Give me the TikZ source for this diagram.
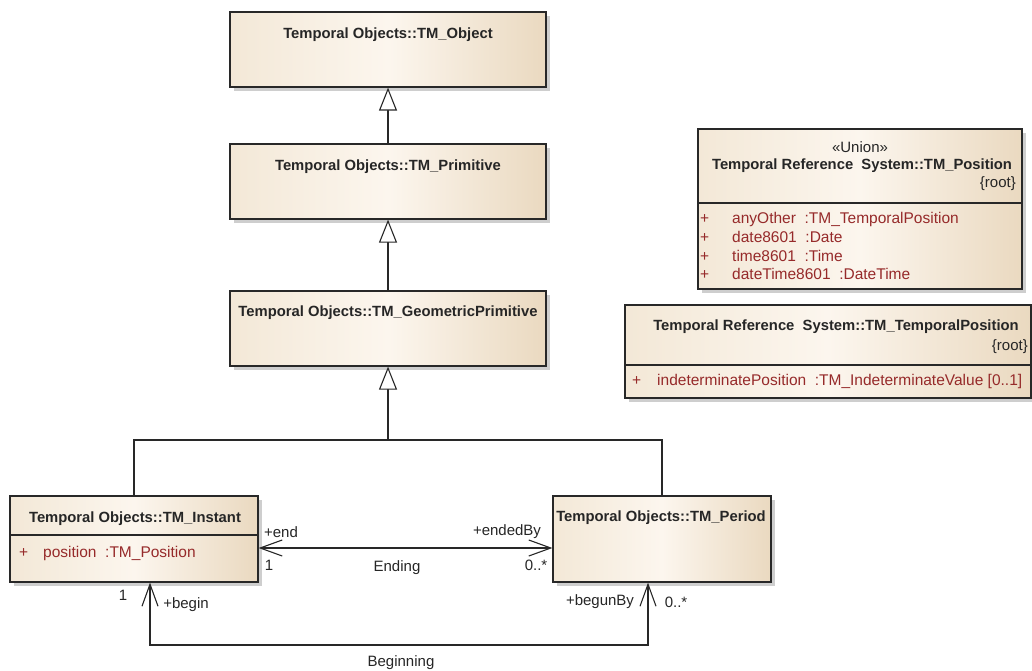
\documentclass[tikz,border=0pt]{standalone}
\usepackage{fontspec}
\setmainfont{Liberation Sans}
\usetikzlibrary{arrows.meta,shadows}
\definecolor{boxleft}{RGB}{243,232,215}
\definecolor{boxmid}{RGB}{252,246,238}
\definecolor{boxright}{RGB}{234,217,192}
\definecolor{attrred}{RGB}{150,42,42}
\definecolor{edge}{RGB}{40,40,40}
\tikzset{
    umlclass/.style={draw=edge, line width=1.2pt, left color=boxleft, right color=boxright, middle color=boxmid,
        drop shadow={shadow xshift=4pt, shadow yshift=-4pt, opacity=0.35, fill=black!55}, inner sep=0pt},
    title/.style={font=\bfseries\fontsize{14.8}{17}\selectfont, text=black!85, inner sep=0pt},
    txt/.style={font=\fontsize{15}{17}\selectfont, text=black!85, inner sep=0pt},
    attr/.style={font=\fontsize{15.5}{17}\selectfont, inner sep=0pt, text=attrred, anchor=base west},
    genline/.style={draw=edge, line width=1.1pt, -{Triangle[length=23pt, width=18pt, fill=white, line width=1.1pt]}},
    assoc/.style={draw=edge, line width=1.1pt,
        {Straight Barb[length=22pt, width=16pt]}-{Straight Barb[length=22pt, width=16pt]}},
}
\begin{document}
\begin{tikzpicture}[x=1pt, y=-1pt]
    \fill[white] (0,0) rectangle (1032,671);
    \useasboundingbox (0,0) rectangle (1032,671);

    % classes of Temporal Objects
    \node[umlclass, minimum width=316pt, minimum height=75pt] (obj) at (388,49.5) {};
    \node[title] (objT) at (388,35) {Temporal Objects::TM\_Object};
    \node[umlclass, minimum width=316pt, minimum height=75pt] (prim) at (388,181.5) {};
    \node[title] (primT) at (388,167) {Temporal Objects::TM\_Primitive};
    \node[umlclass, minimum width=316pt, minimum height=75pt] (geo) at (388,328.5) {};
    \node[title] (geoT) at (388,313) {Temporal Objects::TM\_GeometricPrimitive};

    \node[umlclass, minimum width=248pt, minimum height=86pt] (inst) at (134,539) {};
    \node[title] (instT) at (135,519) {Temporal Objects::TM\_Instant};
    \draw[draw=edge, line width=1.2pt] (10,535) -- (258,535);
    \node[attr] (instP) at (19,557) {+};
    \node[attr] (instA) at (43,557) {position~ :TM\_Position};

    \node[umlclass, minimum width=218pt, minimum height=86pt] (per) at (662,539) {};
    \node[title] (perT) at (661,518) {Temporal Objects::TM\_Period};

    % Temporal Reference System
    \node[umlclass, minimum width=324pt, minimum height=160pt] (pos) at (860,209) {};
    \node[txt] (posS) at (860,147) {«Union»};
    \node[title] (posT) at (862,166) {Temporal Reference~ System::TM\_Position};
    \node[txt, anchor=east] (posR) at (1016,184) {\{root\}};
    \draw[draw=edge, line width=1.2pt] (698,203) -- (1022,203);
    \foreach \y/\a in {223/{anyOther~ :TM\_TemporalPosition}, 242/{date8601~ :Date},
                       261/{time8601~ :Time}, 279/{dateTime8601~ :DateTime}} {
        \node[attr] at (700,\y) {+};
        \node[attr] at (732,\y) {\a};
    }

    \node[umlclass, minimum width=406pt, minimum height=93pt] (tpos) at (828,351.5) {};
    \node[title] (tposT) at (836,327) {Temporal Reference~ System::TM\_TemporalPosition};
    \node[txt, anchor=east] (tposR) at (1028,347) {\{root\}};
    \draw[draw=edge, line width=1.2pt] (625,365) -- (1031,365);
    \node[attr] (tposP) at (632,385) {+};
    \node[attr] (tposA) at (657,385) {indeterminatePosition~ :TM\_IndeterminateValue [0..1]};

    % generalisations
    \draw[genline] (prim.north) -- (obj.south);
    \draw[genline] (geo.north) -- (prim.south);
    \coordinate (fork) at (388,440);
    \draw[genline] (fork) -- (geo.south);
    \draw[draw=edge, line width=1.1pt] (inst.north) |- (fork) -| (per.north);

    % Ending
    \draw[assoc] ([yshift=-9pt]inst.east) -- ([yshift=-9pt]per.west);
    \node[txt] (endR) at (281,532) {+end};
    \node[txt] (endM) at (269,565) {1};
    \node[txt] (endN) at (397,568) {Ending};
    \node[txt] (endbyR) at (507,532) {+endedBy};
    \node[txt] (endbyM) at (536,565) {0..*};

    % Beginning
    \coordinate (bot) at (400,645);
    \draw[assoc] ([xshift=16pt]inst.south) |- (bot) -| ([xshift=-14pt]per.south);
    \node[txt] (beginM) at (123,595) {1};
    \node[txt] (beginR) at (186,605) {+begin};
    \node[txt] (begunR) at (600,602) {+begunBy};
    \node[txt] (begunM) at (676,602) {0..*};
    \node[txt] (beginN) at (401,663) {Beginning};
\end{tikzpicture}
\end{document}
